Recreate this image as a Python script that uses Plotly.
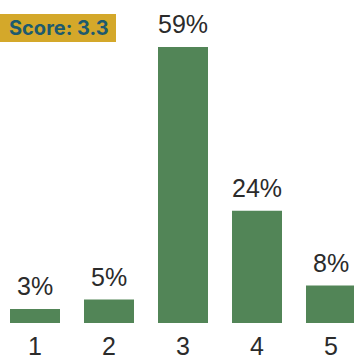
import plotly.graph_objects as go

# Rating distribution
ratings = ["1", "2", "3", "4", "5"]
shares = [3, 5, 59, 24, 8]          # percent of responses
score_label = "Score: 3.3"

W, H = 354, 360
plot_bottom = 37                    # px below the plot area for tick labels
plot_h = H - plot_bottom
px_per_unit = 276 / 59              # vertical scale of the bars
x_pos = list(range(len(ratings)))

fig = go.Figure(
    go.Bar(
        x=x_pos,
        y=shares,
        width=50 / 74,
        marker=dict(color="#528557", line=dict(width=0)),
        hoverinfo="skip",
    )
)

# Percentage labels above each bar
for xi, v in zip(x_pos, shares):
    fig.add_annotation(
        x=xi, y=v, xref="x", yref="y",
        text=f"{v}%", showarrow=False,
        yanchor="bottom", yshift=7,
        font=dict(family="Liberation Sans", size=25, color="#2b2b2b"),
    )

# Score badge in the top-left corner
fig.add_shape(
    type="rect", xref="paper", yref="paper",
    x0=0, x1=116 / W, y0=1 - 42 / plot_h, y1=1 - 14 / plot_h,
    fillcolor="#D4A82A", line=dict(width=0), layer="above",
)
fig.add_annotation(
    x=59 / W, y=1 - 28 / plot_h, xref="paper", yref="paper",
    text=f"<b>{score_label}</b>", showarrow=False,
    xanchor="center", yanchor="middle",
    font=dict(family="Inter", size=20, color="#1D5A6E"),
)

fig.update_layout(
    width=W, height=H,
    margin=dict(l=0, r=0, t=0, b=plot_bottom, autoexpand=False),
    paper_bgcolor="white", plot_bgcolor="white",
    showlegend=False,
    xaxis=dict(
        range=[-35 / 74, (W - 35) / 74],
        tickmode="array", tickvals=x_pos, ticktext=ratings,
        showgrid=False, zeroline=False, showline=False, ticks="",
        automargin=False, ticklabelstandoff=6,
        tickfont=dict(family="Liberation Sans", size=25, color="#2b2b2b"),
        fixedrange=True,
    ),
    yaxis=dict(
        range=[0, plot_h / px_per_unit],
        visible=False, fixedrange=True, automargin=False,
    ),
)

fig.write_html("out.html")
